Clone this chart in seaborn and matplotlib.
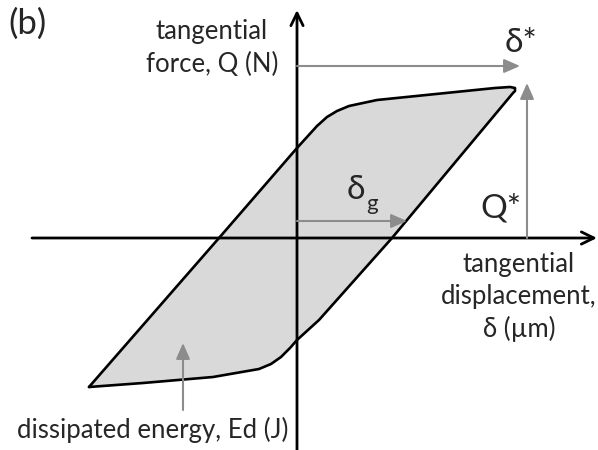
import pandas as pd
import matplotlib
matplotlib.use("Agg")
import matplotlib.pyplot as plt
import seaborn as sns

# =========================================
# FRETTING LOOP DATA (schematic)
# origin = where the two axes cross
# =========================================

displacement = [-208, -78, 0, 20, 30, 40, 52, 66, 80, 198, 213, 218, 218, 216,
                95, 22, 0, -7, -16, -26, -38, -84, -154, -208]
force = [-149, 0, 90, 112, 121, 127, 132, 135, 138, 150, 151, 150, 147, 145,
         0, -82, -102, -110, -119, -126, -131, -139, -145, -149]

delta_star = 223   # displacement amplitude arrow
q_star = 155       # force amplitude arrow
delta_g = 110      # gross slip displacement arrow

loop = pd.DataFrame({"displacement": displacement, "force": force})

# =========================================
# STYLE
# =========================================

sns.set_theme(style="white")
plt.rcParams['font.family'] = ['Lato', 'DejaVu Sans']

fig = plt.figure(figsize=(5.98, 4.5), dpi=100)
ax = fig.add_axes([0, 0, 1, 1])
ax.set_xlim(-297, 301)
ax.set_ylim(-212, 238)
ax.axis("off")

gray = "#8c8c8c"

# loop fill + outline
ax.fill(loop["displacement"], loop["force"], color="#d9d9d9", zorder=1)
sns.lineplot(
    data=loop,
    x="displacement",
    y="force",
    sort=False,
    estimator=None,
    color="black",
    linewidth=1.9,
    ax=ax,
    zorder=3
)

# -----------------------------------------
# AXES ARROWS
# -----------------------------------------

axis_arrow = dict(arrowstyle="->,head_length=0.45,head_width=0.22",
                  color="black", lw=2.0, mutation_scale=20,
                  shrinkA=0, shrinkB=0)
ax.annotate("", xy=(300, 0), xytext=(-265, 0), arrowprops=axis_arrow, zorder=2)
ax.annotate("", xy=(0, 228), xytext=(0, -212), arrowprops=axis_arrow, zorder=2)

# -----------------------------------------
# GRAY ANNOTATION ARROWS
# -----------------------------------------

gray_arrow = dict(arrowstyle="-|>,head_length=0.8,head_width=0.35",
                  color=gray, lw=1.5, mutation_scale=12,
                  shrinkA=0, shrinkB=0)
ax.annotate("", xy=(delta_star, 172), xytext=(0, 172), arrowprops=gray_arrow)
ax.annotate("", xy=(230, q_star), xytext=(230, 0), arrowprops=gray_arrow)
ax.annotate("", xy=(delta_g, 17), xytext=(0, 17), arrowprops=gray_arrow, zorder=4)
ax.annotate("", xy=(-114, -105), xytext=(-114, -172), arrowprops=gray_arrow, zorder=4)

# -----------------------------------------
# TEXT
# -----------------------------------------

ax.text(-289, 214, "(b)", fontsize=25, ha="left", va="center")
ax.text(-85, 190, "tangential\nforce, Q (N)", fontsize=18.5,
        ha="center", va="center", linespacing=1.42)
ax.text(208, 186, "δ*", fontsize=24, ha="left", va="baseline")
ax.text(183, 21, "Q*", fontsize=24, ha="left", va="baseline")
ax.text(50, 39, "δ", fontsize=24, ha="left", va="baseline", zorder=5)
ax.text(69, 28, "g", fontsize=16, ha="left", va="baseline", zorder=5)
ax.text(222, -59, "tangential\ndisplacement,\nδ (µm)", fontsize=18.5,
        ha="center", va="center", linespacing=1.36)
ax.text(-144, -200, "dissipated energy, Ed (J)", fontsize=18.5,
        ha="center", va="baseline")

plt.savefig("out.png", dpi=100)
